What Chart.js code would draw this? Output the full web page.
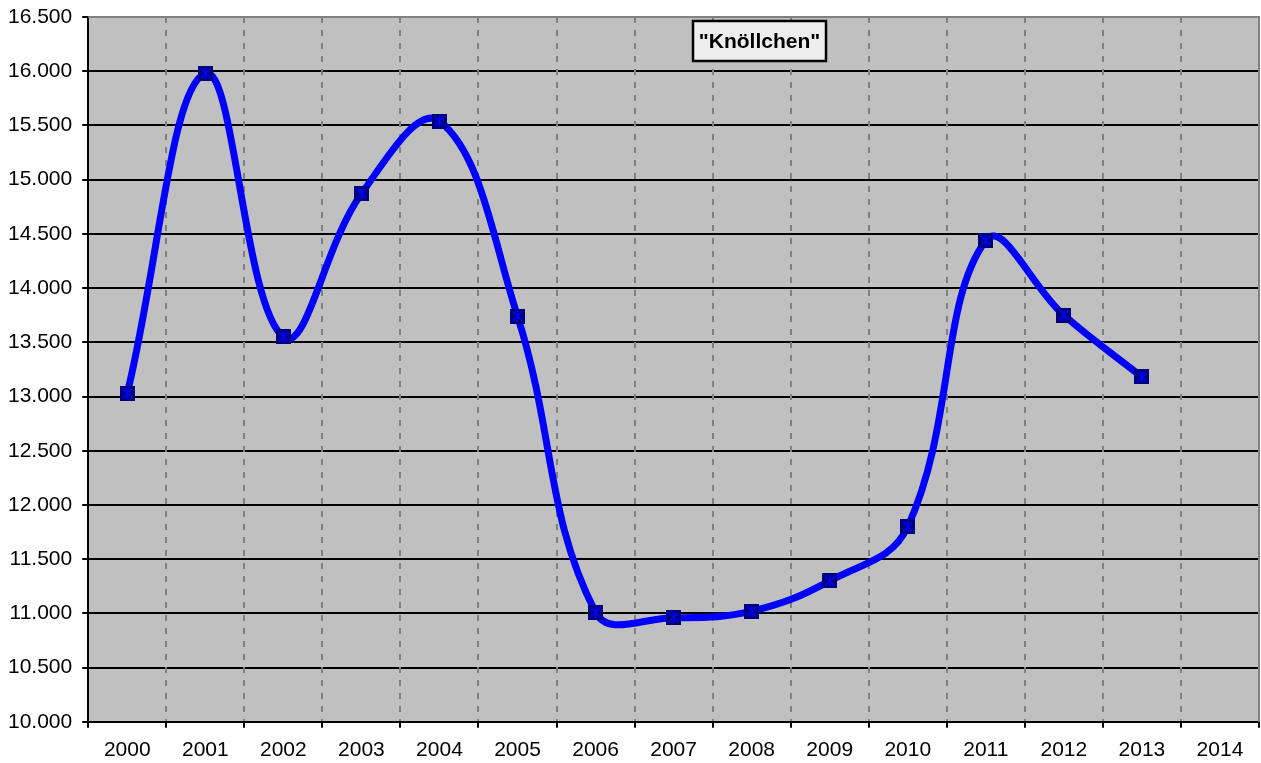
<!DOCTYPE html>
<html>
<head>
<meta charset="utf-8">
<script src="https://cdn.jsdelivr.net/npm/chart.js@4"></script>
<style>
  body { margin: 0; background: #fff; }
</style>
</head>
<body>
<canvas id="myChart" width="1261" height="763"></canvas>
<script>
const years = ['2000', '2001', '2002', '2003', '2004', '2005', '2006', '2007', '2008', '2009', '2010', '2011', '2012', '2013', '2014'];
const values = [13030, 15980, 13550, 14870, 15540, 13740, 11010, 10960, 11020, 11300, 11800, 14440, 13750, 13180, null];
const chartTitle = '"Knöllchen"';

// Marker: dark square with a blue x inside
const marker = document.createElement('canvas');
marker.width = 15;
marker.height = 15;
(function () {
  const m = marker.getContext('2d');
  m.fillStyle = '#000080';
  m.fillRect(0, 0, 15, 15);
  m.strokeStyle = '#0000ff';
  m.lineWidth = 1.5;
  m.beginPath();
  m.moveTo(3, 3); m.lineTo(12, 12);
  m.moveTo(12, 3); m.lineTo(3, 12);
  m.moveTo(7.5, 2); m.lineTo(7.5, 13);
  m.stroke();
})();

const plotBox = {
  id: 'plotBox',
  beforeDraw(chart) {
    const { ctx, chartArea: a } = chart;
    ctx.save();
    ctx.fillStyle = '#c0c0c0';
    ctx.fillRect(a.left, a.top, a.right - a.left, a.bottom - a.top);
    ctx.restore();
  },
  beforeDatasetsDraw(chart) {
    const { ctx, chartArea: a } = chart;
    ctx.save();
    ctx.strokeStyle = '#808080';
    ctx.lineWidth = 2;
    ctx.beginPath();
    ctx.moveTo(a.left, a.top);
    ctx.lineTo(a.right, a.top);
    ctx.lineTo(a.right, a.bottom);
    ctx.stroke();
    ctx.restore();
  },
  afterDraw(chart) {
    // title box inside the plot area
    const { ctx } = chart;
    ctx.save();
    ctx.font = 'bold 21px "Liberation Sans", Arial, sans-serif';
    const w = 133, h = 40;
    const x = 693, y = 21;
    ctx.fillStyle = '#ededed';
    ctx.fillRect(x, y, w, h);
    ctx.strokeStyle = '#000';
    ctx.lineWidth = 2.5;
    ctx.strokeRect(x, y, w, h);
    ctx.fillStyle = '#000';
    ctx.textAlign = 'center';
    ctx.textBaseline = 'middle';
    ctx.fillText(chartTitle, x + w / 2, y + h / 2 + 1);
    ctx.restore();
  }
};

const ctx = document.getElementById('myChart').getContext('2d');

const myChart = new Chart(ctx, {
  type: 'line',
  data: {
    labels: years,
    datasets: [{
      data: values,
      borderColor: '#0000ff',
      borderWidth: 7,
      tension: 0.4,
      pointStyle: marker,
      pointRadius: 7,
      pointHoverRadius: 7,
      fill: false
    }]
  },
  options: {
    responsive: false,
    animation: false,
    layout: { autoPadding: false, padding: { left: -2, right: 2, top: 17, bottom: -10 } },
    scales: {
      y: {
        min: 10000,
        max: 16500,
        afterFit: s => { s.paddingTop = 0; s.paddingBottom = 0; },
        ticks: {
          stepSize: 500,
          padding: 10,
          color: '#000',
          font: { family: '"Liberation Sans", Arial, sans-serif', size: 21 },
          callback: v => (v / 1000).toFixed(3)
        },
        grid: {
          color: c => (c.tick && c.tick.value === 16500) ? '#808080' : '#000',
          lineWidth: 2,
          tickColor: '#000',
          tickLength: 6
        },
        border: { display: true, color: '#000', width: 2 }
      },
      x: {
        offset: true,
        ticks: {
          padding: 10,
          color: '#000',
          font: { family: '"Liberation Sans", Arial, sans-serif', size: 21 }
        },
        grid: {
          offset: true,
          color: '#808080',
          lineWidth: 2,
          tickColor: '#000',
          tickBorderDash: [],
          tickLength: 6
        },
        border: { display: true, color: '#000', width: 2, dash: [6, 7] }
      }
    },
    plugins: {
      legend: { display: false },
      tooltip: { enabled: false }
    }
  },
  plugins: [plotBox]
});
</script>
</body>
</html>
